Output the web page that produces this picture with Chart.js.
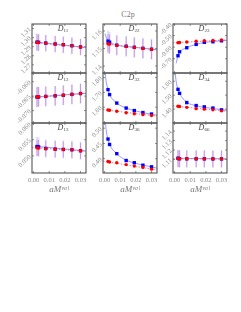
<!DOCTYPE html>
<html>
<head>
<meta charset="utf-8">
<script src="https://cdn.jsdelivr.net/npm/chart.js@4.4.1/dist/chart.umd.min.js"></script>
<style>
  html, body { margin: 0; padding: 0; background: #fff; }
  #wrap { position: relative; width: 241px; height: 312px; overflow: hidden; }
  #wrap canvas { position: absolute; }
  #title { position: absolute; left: 0; width: 256px; top: 9.5px; line-height: 9px; text-align: center;
           font: 8px "Liberation Serif", serif; color: #777; }
</style>
</head>
<body>
<div id="wrap"><div id="title">C2p</div></div>
<script>
// valence masses (x) and x ticks, shared by all panels
const xVal = [0.0022, 0.0032, 0.0078, 0.0138, 0.0190, 0.0245, 0.0300];
const xTicks = [0, 0.01, 0.02, 0.03];

// D11
const d11Ticks = [1.27, 1.28, 1.29, 1.30, 1.31];
const d11Blue = [1.2950, 1.2948, 1.2940, 1.2930, 1.2922, 1.2911, 1.2897];
const d11Red = [1.2946, 1.2945, 1.2939, 1.2929, 1.2921, 1.2910, 1.2896];
const d11BlueErr = [0.0095, 0.009, 0.009, 0.009, 0.009, 0.009, 0.009];
const d11RedErr = [0.009, 0.009, 0.009, 0.009, 0.009, 0.009, 0.009];
const d11BlueFit = [[0.001, 1.2952], [0.0335, 1.2891]];
const d11RedFit = [[-0.001, 1.2948], [0.0335, 1.2890]];

// D22
const d22Ticks = [1.14, 1.15, 1.16];
const d22Blue = [1.1542, 1.1536, 1.1519, 1.1513, 1.1507, 1.1501, 1.1496];
const d22Red = [1.1527, 1.1525, 1.1518, 1.1512, 1.1506, 1.1500, 1.1495];
const d22BlueErr = [0.006, 0.006, 0.006, 0.006, 0.006, 0.006, 0.006];
const d22RedErr = [0.0055, 0.0055, 0.0055, 0.0055, 0.0055, 0.0055, 0.0055];
const d22BlueFit = [[0.0003, 1.1585], [0.0012, 1.1560], [0.0022, 1.1545], [0.0078, 1.1520], [0.019, 1.1507], [0.0335, 1.1492]];
const d22RedFit = [[-0.001, 1.1528], [0.0335, 1.1492]];

// D23
const d23Ticks = [-0.70, -0.60, -0.50, -0.40];
const d23Blue = [-0.674, -0.640, -0.605, -0.576, -0.558, -0.553, -0.545];
const d23Red = [-0.562, -0.560, -0.555, -0.549, -0.545, -0.542, -0.538];
const d23BlueErr = [0.008, 0.008, 0.008, 0.008, 0.008, 0.008, 0.008];
const d23RedErr = [0.008, 0.008, 0.008, 0.008, 0.008, 0.008, 0.008];
const d23BlueFit = [[0.001, -0.740], [0.0022, -0.672], [0.0032, -0.645], [0.0078, -0.603], [0.0138, -0.576], [0.019, -0.560], [0.0245, -0.551], [0.0335, -0.541]];
const d23RedFit = [[-0.001, -0.563], [0.0335, -0.537]];

// D12
const d12Ticks = [-0.070, -0.065, -0.060];
const d12Blue = [-0.0653, -0.0653, -0.0651, -0.0649, -0.0647, -0.0644, -0.0641];
const d12Red = [-0.0653, -0.0652, -0.0651, -0.0649, -0.0647, -0.0644, -0.0641];
const d12BlueErr = [0.0035, 0.0034, 0.0034, 0.0034, 0.0034, 0.0034, 0.0034];
const d12RedErr = [0.0034, 0.0034, 0.0034, 0.0034, 0.0034, 0.0034, 0.0034];
const d12BlueFit = [[0.001, -0.0654], [0.0335, -0.0640]];
const d12RedFit = [[-0.001, -0.0654], [0.0335, -0.0640]];

// D33
const d33Ticks = [1.60, 1.70, 1.80];
const d33Blue = [1.7186, 1.6849, 1.6277, 1.5940, 1.5770, 1.5637, 1.5536];
const d33Red = [1.5805, 1.5790, 1.5725, 1.5620, 1.5556, 1.5496, 1.5435];
const d33BlueErr = [0.006, 0.006, 0.006, 0.006, 0.006, 0.006, 0.006];
const d33RedErr = [0.005, 0.005, 0.005, 0.005, 0.005, 0.005, 0.005];
const d33BlueFit = [[0.0002, 1.850], [0.001, 1.775], [0.0022, 1.720], [0.0032, 1.686], [0.0078, 1.628], [0.0138, 1.594], [0.019, 1.577], [0.0245, 1.563], [0.0335, 1.545]];
const d33RedFit = [[-0.001, 1.584], [0.0335, 1.539]];

// D34
const d34Ticks = [1.40, 1.50, 1.60];
const d34Blue = [1.5417, 1.5131, 1.4466, 1.4252, 1.4159, 1.4073, 1.3944];
const d34Red = [1.4202, 1.4180, 1.4123, 1.4030, 1.3994, 1.3944, 1.3872];
const d34BlueErr = [0.006, 0.006, 0.006, 0.006, 0.006, 0.006, 0.006];
const d34RedErr = [0.005, 0.005, 0.005, 0.005, 0.005, 0.005, 0.005];
const d34BlueFit = [[0.0002, 1.680], [0.001, 1.600], [0.0022, 1.542], [0.0032, 1.512], [0.0078, 1.449], [0.0138, 1.424], [0.019, 1.413], [0.0245, 1.404], [0.0335, 1.391]];
const d34RedFit = [[-0.001, 1.423], [0.0335, 1.384]];

// D13
const d13Ticks = [0.050, 0.055, 0.060];
const d13Blue = [0.0529, 0.0528, 0.0523, 0.0521, 0.0520, 0.0519, 0.0516];
const d13Red = [0.0525, 0.0524, 0.0522, 0.0521, 0.0520, 0.0519, 0.0516];
const d13BlueErr = [0.003, 0.003, 0.0028, 0.0028, 0.0028, 0.0028, 0.0028];
const d13RedErr = [0.0025, 0.0025, 0.0025, 0.0025, 0.0025, 0.0025, 0.0025];
const d13BlueFit = [[0.001, 0.0530], [0.0335, 0.0515]];
const d13RedFit = [[-0.001, 0.0526], [0.0335, 0.0515]];

// D36
const d36Ticks = [0.40, 0.45, 0.50];
const d36Blue = [0.4644, 0.4465, 0.4165, 0.3939, 0.3866, 0.3786, 0.3733];
const d36Red = [0.3906, 0.3893, 0.3866, 0.3806, 0.3756, 0.3713, 0.3657];
const d36BlueErr = [0.003, 0.003, 0.003, 0.003, 0.003, 0.003, 0.003];
const d36RedErr = [0.003, 0.003, 0.003, 0.003, 0.003, 0.003, 0.003];
const d36BlueFit = [[0.0004, 0.530], [0.001, 0.495], [0.0022, 0.464], [0.0032, 0.447], [0.0078, 0.416], [0.0138, 0.395], [0.019, 0.386], [0.0245, 0.379], [0.0335, 0.369]];
const d36RedFit = [[-0.001, 0.392], [0.0335, 0.363]];

// D66
const d66Ticks = [1.11, 1.12, 1.13, 1.14];
const d66Blue = [1.1114, 1.1108, 1.1107, 1.1107, 1.1107, 1.1106, 1.1106];
const d66Red = [1.1108, 1.1107, 1.1107, 1.1107, 1.1106, 1.1106, 1.1106];
const d66BlueErr = [0.009, 0.009, 0.009, 0.009, 0.009, 0.009, 0.009];
const d66RedErr = [0.009, 0.009, 0.009, 0.009, 0.009, 0.009, 0.009];
const d66BlueFit = [[0.001, 1.1113], [0.0335, 1.1106]];
const d66RedFit = [[-0.001, 1.1108], [0.0335, 1.1106]];

// layout of the 3x3 grid
const colLeft = [32, 103, 173];
const rowTop = [24, 73, 123];
const rowH = [49, 50, 50];
const panelW = 54;
const axisW = 30;
const FONT = '"Liberation Serif", "DejaVu Serif", serif';

const panels = [
  { sub: '11', row: 0, col: 0, min: 1.261, max: 1.315, dec: 2, ticks: d11Ticks, blue: d11Blue, red: d11Red, blueErr: d11BlueErr, redErr: d11RedErr, blueFit: d11BlueFit, redFit: d11RedFit },
  { sub: '22', row: 0, col: 1, min: 1.136, max: 1.164, dec: 2, ticks: d22Ticks, blue: d22Blue, red: d22Red, blueErr: d22BlueErr, redErr: d22RedErr, blueFit: d22BlueFit, redFit: d22RedFit },
  { sub: '23', row: 0, col: 2, min: -0.823, max: -0.400, dec: 2, ticks: d23Ticks, blue: d23Blue, red: d23Red, blueErr: d23BlueErr, redErr: d23RedErr, blueFit: d23BlueFit, redFit: d23RedFit },
  { sub: '12', row: 1, col: 0, min: -0.0743, max: -0.0570, dec: 3, ticks: d12Ticks, blue: d12Blue, red: d12Red, blueErr: d12BlueErr, redErr: d12RedErr, blueFit: d12BlueFit, redFit: d12RedFit },
  { sub: '33', row: 1, col: 1, min: 1.493, max: 1.831, dec: 2, ticks: d33Ticks, blue: d33Blue, red: d33Red, blueErr: d33BlueErr, redErr: d33RedErr, blueFit: d33BlueFit, redFit: d33RedFit },
  { sub: '34', row: 1, col: 2, min: 1.300, max: 1.659, dec: 2, ticks: d34Ticks, blue: d34Blue, red: d34Red, blueErr: d34BlueErr, redErr: d34RedErr, blueFit: d34BlueFit, redFit: d34RedFit },
  { sub: '13', row: 2, col: 0, min: 0.0447, max: 0.0602, dec: 3, ticks: d13Ticks, blue: d13Blue, red: d13Red, blueErr: d13BlueErr, redErr: d13RedErr, blueFit: d13BlueFit, redFit: d13RedFit },
  { sub: '36', row: 2, col: 1, min: 0.353, max: 0.517, dec: 2, ticks: d36Ticks, blue: d36Blue, red: d36Red, blueErr: d36BlueErr, redErr: d36RedErr, blueFit: d36BlueFit, redFit: d36RedFit },
  { sub: '66', row: 2, col: 2, min: 1.0957, max: 1.1486, dec: 2, ticks: d66Ticks, blue: d66Blue, red: d66Red, blueErr: d66BlueErr, redErr: d66RedErr, blueFit: d66BlueFit, redFit: d66RedFit },
];

// error bars, frame, inner tick marks and the D_ij label
const panelDeco = {
  id: 'panelDeco',
  beforeDatasetsDraw(chart) {
    const { ctx, chartArea: a } = chart;
    const xs = chart.scales.x, ys = chart.scales.y;
    ctx.save();
    ctx.beginPath();
    ctx.rect(a.left, a.top, a.width, a.height);
    ctx.clip();
    chart.data.datasets.forEach(ds => {
      if (!ds.errors) return;
      ctx.strokeStyle = ds.errColor;
      ctx.lineWidth = ds.errWidth;
      ds.data.forEach((p, i) => {
        const px = xs.getPixelForValue(p.x);
        ctx.beginPath();
        ctx.moveTo(px, ys.getPixelForValue(p.y - ds.errors[i]));
        ctx.lineTo(px, ys.getPixelForValue(p.y + ds.errors[i]));
        ctx.stroke();
      });
    });
    ctx.restore();
  },
  afterDraw(chart, args, opts) {
    const { ctx, chartArea: a } = chart;
    const xs = chart.scales.x, ys = chart.scales.y;
    ctx.save();
    ctx.strokeStyle = '#777';
    ctx.lineWidth = 0.8;
    ctx.beginPath();
    ys.ticks.forEach(t => {
      const py = ys.getPixelForValue(t.value);
      ctx.moveTo(a.left, py); ctx.lineTo(a.left + 2, py);
      ctx.moveTo(a.right - 2, py); ctx.lineTo(a.right, py);
    });
    xTicks.forEach(v => {
      const px = xs.getPixelForValue(v);
      ctx.moveTo(px, a.top); ctx.lineTo(px, a.top + 2);
      ctx.moveTo(px, a.bottom - 2); ctx.lineTo(px, a.bottom);
    });
    ctx.stroke();
    ctx.strokeStyle = '#555';
    ctx.lineWidth = 1.1;
    ctx.strokeRect(a.left, a.top, a.width, a.height);

    ctx.fillStyle = '#444';
    ctx.textBaseline = 'middle';
    ctx.textAlign = 'left';
    ctx.font = 'italic 8px ' + FONT;
    const dW = ctx.measureText('D').width;
    ctx.font = '5px ' + FONT;
    const sW = ctx.measureText(opts.sub).width;
    const x0 = (a.left + a.right) / 2 + 4 - (dW + sW) / 2;
    const y0 = a.top + 4.5;
    ctx.font = 'italic 8px ' + FONT;
    ctx.fillText('D', x0, y0);
    ctx.font = '5px ' + FONT;
    ctx.fillText(opts.sub, x0 + dW, y0 + 2);
    ctx.restore();
  }
};

const pts = ys => xVal.map((x, i) => ({ x, y: ys[i] }));
const fitPts = arr => arr.map(([x, y]) => ({ x, y }));

const wrap = document.getElementById('wrap');

panels.forEach(p => {
  const bottom = p.row === 2;
  const h = rowH[p.row];
  const canvas = document.createElement('canvas');
  const cw = axisW + panelW + 4;
  const ch = 8 + h + (bottom ? 23 : 4);
  canvas.width = cw;
  canvas.height = ch;
  canvas.style.width = cw + 'px';
  canvas.style.height = ch + 'px';
  canvas.style.left = (colLeft[p.col] - axisW) + 'px';
  canvas.style.top = (rowTop[p.row] - 8) + 'px';
  wrap.appendChild(canvas);

  const tickFont = { family: FONT, size: 6.5 };

  new Chart(canvas, {
    type: 'scatter',
    data: {
      datasets: [
        { data: pts(p.red), order: 0, pointStyle: 'circle', pointRadius: 1.7, backgroundColor: '#ff0000', borderWidth: 0,
          errors: p.redErr, errColor: 'rgba(200,50,150,0.55)', errWidth: 0.9 },
        { data: pts(p.blue), order: 1, pointStyle: 'rect', pointRadius: 2.4, backgroundColor: '#0000ff', borderWidth: 0,
          errors: p.blueErr, errColor: 'rgba(150,150,255,0.3)', errWidth: 1.8 },
        { data: fitPts(p.redFit), order: 2, showLine: true, pointRadius: 0, borderColor: 'rgba(255,90,90,0.8)',
          borderWidth: 1, borderDash: [1.5, 1.5] },
        { data: fitPts(p.blueFit), order: 3, showLine: true, pointRadius: 0, borderColor: 'rgba(110,110,255,0.7)',
          borderWidth: 1, cubicInterpolationMode: 'monotone' }
      ]
    },
    options: {
      responsive: false,
      animation: false,
      devicePixelRatio: 1,
      events: [],
      layout: { padding: { left: 0, top: 8, right: 4, bottom: bottom ? 2 : 4 } },
      plugins: {
        legend: { display: false },
        tooltip: { enabled: false },
        panelDeco: { sub: p.sub }
      },
      scales: {
        x: {
          type: 'linear', min: -0.001, max: 0.0335,
          grid: { display: false, drawTicks: false },
          border: { display: false },
          afterBuildTicks: s => { s.ticks = xTicks.map(v => ({ value: v })); },
          afterFit: s => { s.height = bottom ? 21 : 0; s.paddingLeft = 0; s.paddingRight = 0; },
          ticks: { display: bottom, padding: 3, autoSkip: false, maxRotation: 0, font: tickFont, color: '#888',
                   callback: v => v.toFixed(2) },
          title: { display: bottom, text: 'aMᵛᵃˡ', padding: 0, color: '#777',
                   font: { family: FONT, size: 9, style: 'italic', lineHeight: 1 } }
        },
        y: {
          min: p.min, max: p.max,
          grid: { display: false, drawTicks: false },
          border: { display: false },
          afterBuildTicks: s => { s.ticks = p.ticks.map(v => ({ value: v })); },
          afterFit: s => { s.width = axisW; s.paddingTop = 0; s.paddingBottom = 0; },
          ticks: { padding: 2, autoSkip: false, minRotation: 45, maxRotation: 45, font: tickFont, color: '#888',
                   callback: v => v.toFixed(p.dec) }
        }
      }
    },
    plugins: [panelDeco]
  });
});
</script>
</body>
</html>
